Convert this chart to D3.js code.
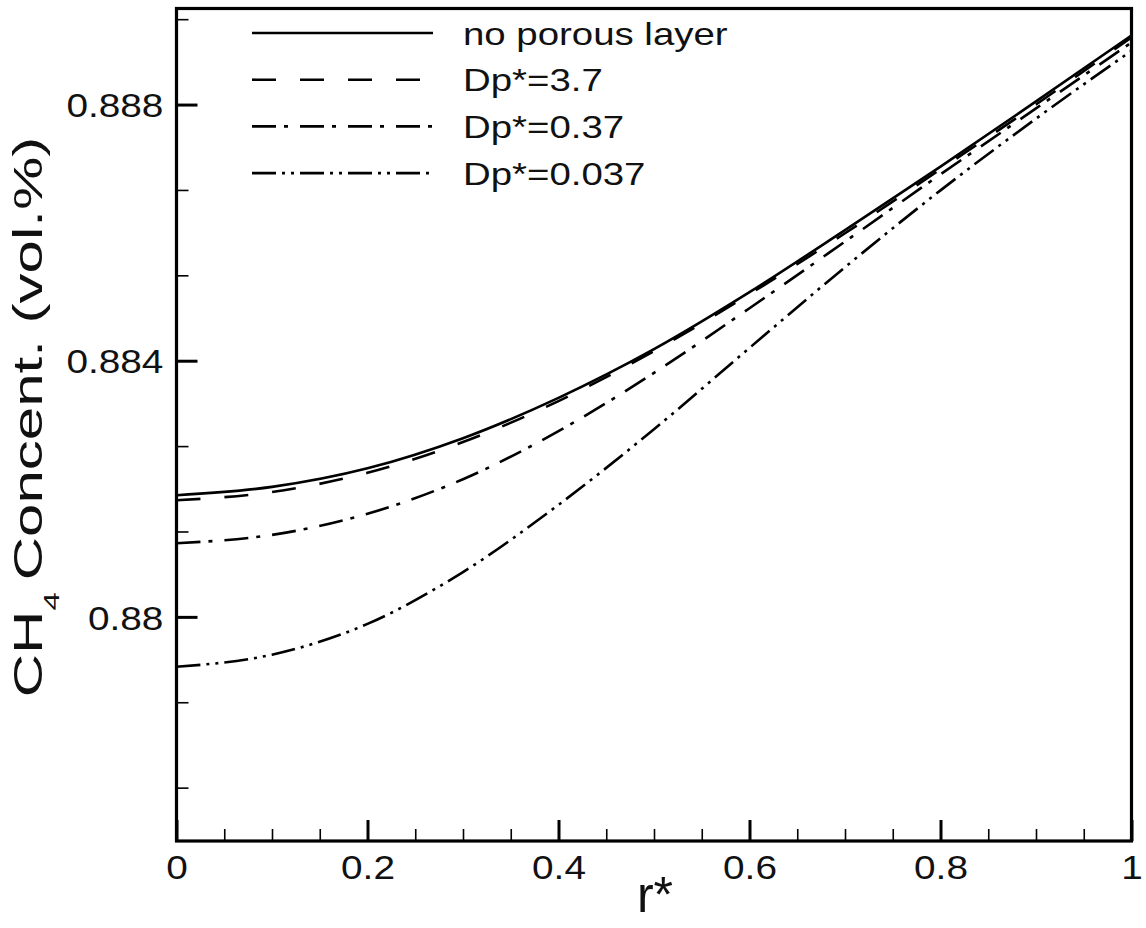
<!DOCTYPE html>
<html>
<head>
<meta charset="utf-8">
<script src="https://cdn.jsdelivr.net/npm/d3@7"></script>
<style>
  body { margin: 0; background: #fff; }
  svg { display: block; font-family: "Liberation Sans", Arial, sans-serif; }
</style>
</head>
<body>
<script>
// radial position r* (shared by every series)
const rValues = [0, 0.1, 0.2, 0.3, 0.4, 0.5, 0.6, 0.7, 0.8, 0.9, 1.0]

// CH4 concentration
const noPorous = [0.88190, 0.88203, 0.88232, 0.88279, 0.88342, 0.88418, 0.88507, 0.88604, 0.88703, 0.88805, 0.88908]
const dp37 = [0.88182, 0.88195, 0.88225, 0.88273, 0.88337, 0.88415, 0.88504, 0.88599, 0.88699, 0.88800, 0.88905]
const dp037 = [0.88115, 0.88128, 0.88161, 0.88215, 0.88290, 0.88381, 0.88482, 0.88586, 0.88691, 0.88794, 0.88897]
const dp0037 = [0.87922, 0.87941, 0.87989, 0.88070, 0.88175, 0.88293, 0.88420, 0.88546, 0.88666, 0.88778, 0.88884]

const seriesNames = ['no porous layer', 'Dp*=3.7', 'Dp*=0.37', 'Dp*=0.037']
const xTicks = [0, 0.2, 0.4, 0.6, 0.8, 1]
const yTicks = [0.88, 0.884, 0.888]

const dashes = ['none', '24,24', '24,8,4,12', '24,6,3,6,3,6']

const fullWidth = 1146
const fullHeight = 928
const plot = { left: 176.5, right: 1131.5, top: 8.5, bottom: 841 }

const x = d3.scaleLinear().domain([0, 1]).range([plot.left, plot.right])
const y = d3.scaleLinear().domain([0.8765, 0.8895]).range([plot.bottom, plot.top])

const svg = d3.select('body').append('svg')
  .attr('width', fullWidth)
  .attr('height', fullHeight)

svg.append('rect')
  .attr('width', fullWidth).attr('height', fullHeight)
  .attr('fill', '#fff')

// ---------------Minor ticks---------------
const xMinor = d3.range(0.05, 1, 0.05).filter(d => Math.abs(d / 0.2 - Math.round(d / 0.2)) > 1e-6)
const yMinor = d3.range(0, 11).map(i => 0.876 + i * 0.004 / 3).filter((d, i) => i % 3 !== 0)

svg.append('g')
  .attr('transform', `translate(0,${plot.bottom})`)
  .call(d3.axisBottom(x).tickValues(xMinor).tickSize(-12).tickFormat(''))
  .call(g => g.select('.domain').remove())
  .selectAll('line').attr('stroke', '#000').attr('stroke-width', 1.6)

svg.append('g')
  .attr('transform', `translate(${plot.left},0)`)
  .call(d3.axisLeft(y).tickValues(yMinor).tickSize(-12).tickFormat(''))
  .call(g => g.select('.domain').remove())
  .selectAll('line').attr('stroke', '#000').attr('stroke-width', 1.6)

// ---------------Major ticks---------------
const xAxis = svg.append('g')
  .attr('transform', `translate(0,${plot.bottom})`)
  .call(d3.axisBottom(x).tickValues(xTicks).tickSize(-21).tickFormat(d => +d.toFixed(1)))
  .call(g => g.select('.domain').remove())

xAxis.selectAll('line').attr('stroke', '#000').attr('stroke-width', 3)
xAxis.selectAll('text')
  .attr('y', 38).attr('dy', null)
  .attr('fill', '#111')
  .attr('font-size', 34)
  .attr('font-family', '"Liberation Sans", Arial, sans-serif')
  .attr('transform', 'scale(1.14,1)')

const yAxis = svg.append('g')
  .attr('transform', `translate(${plot.left},0)`)
  .call(d3.axisLeft(y).tickValues(yTicks).tickSize(-21).tickPadding(12).tickFormat(d => +d.toFixed(3)))
  .call(g => g.select('.domain').remove())

yAxis.selectAll('line').attr('stroke', '#000').attr('stroke-width', 3)
yAxis.selectAll('text')
  .attr('x', -11.5).attr('dy', '0.36em')
  .attr('fill', '#111')
  .attr('font-size', 34)
  .attr('font-family', '"Liberation Sans", Arial, sans-serif')
  .attr('transform', 'scale(1.14,1)')

// ---------------Curves---------------
const series = [noPorous, dp37, dp037, dp0037]

const line = d3.line()
  .x((d, i) => x(rValues[i]))
  .y(d => y(d))
  .curve(d3.curveMonotoneX)

svg.append('g')
  .selectAll('path')
  .data(series)
  .enter().append('path')
  .attr('d', line)
  .attr('fill', 'none')
  .attr('stroke', '#000')
  .attr('stroke-width', 2.6)
  .attr('stroke-dasharray', (d, i) => dashes[i])

// ---------------Frame---------------
svg.append('rect')
  .attr('x', plot.left).attr('y', plot.top)
  .attr('width', plot.right - plot.left)
  .attr('height', plot.bottom - plot.top)
  .attr('fill', 'none')
  .attr('stroke', '#000')
  .attr('stroke-width', 3.2)

// ---------------Legend---------------
const legend = svg.append('g')
  .selectAll('g')
  .data(seriesNames)
  .enter().append('g')
  .attr('transform', (d, i) => `translate(252,${33 + i * 46.7})`)

legend.append('line')
  .attr('x1', 0).attr('x2', 181)
  .attr('stroke', '#000')
  .attr('stroke-width', 2.6)
  .attr('stroke-dasharray', (d, i) => dashes[i])

legend.append('text')
  .attr('x', 211 / 1.2)
  .attr('dy', '0.36em')
  .attr('fill', '#111')
  .attr('font-size', 32)
  .attr('transform', 'scale(1.2,1)')
  .text(d => d)

// ---------------Axis titles---------------
svg.append('text')
  .attr('transform', `translate(655,912)`)
  .attr('text-anchor', 'middle')
  .attr('fill', '#111')
  .attr('font-size', 50)
  .text('r*')

const yTitle = svg.append('text')
  .attr('transform', 'translate(42,417) rotate(-90) scale(1.5,1)')
  .attr('text-anchor', 'middle')
  .attr('fill', '#111')
  .attr('font-size', 40)

yTitle.append('tspan').text('CH')
yTitle.append('tspan').attr('font-size', 22).attr('dy', 17).text('4')
yTitle.append('tspan').attr('dy', -17).text('\u2009Concent. (vol.%)')
</script>
</body>
</html>
